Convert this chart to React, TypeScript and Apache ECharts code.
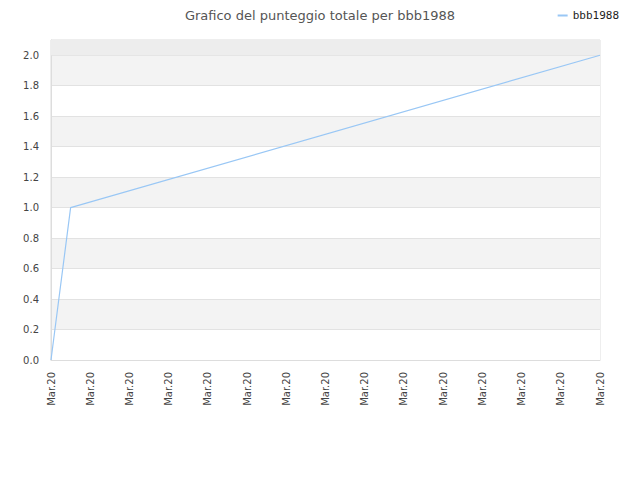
import React, { useEffect, useRef } from "react";
import * as echarts from "echarts";

const seriesName = "bbb1988";
const xValues = [0, 0.5, 14];
const yValues = [0, 1.0, 2.0];
const xTickLabel = "Mar.20";
const titleText = "Grafico del punteggio totale per bbb1988";

export default function App() {
  const ref = useRef<HTMLDivElement>(null);
  useEffect(() => {
    if (!ref.current) return;
    const chart = echarts.init(ref.current, null, { renderer: "svg" });
    const data = xValues.map((x, i) => [x, yValues[i]]);
    chart.setOption({
      animation: false,
      backgroundColor: "#ffffff",
      title: {
        text: titleText,
        left: "center",
        top: 4,
        textStyle: { fontFamily: "DejaVu Sans", fontSize: 13, fontWeight: "normal", color: "#555555" },
      },
      legend: {
        right: 16,
        top: 5,
        itemWidth: 10,
        itemHeight: 2,
        itemGap: 10,
        icon: "rect",
        textStyle: { fontFamily: "DejaVu Sans Mono", fontSize: 11, color: "#222222" },
        data: [seriesName],
      },
      grid: {
        left: 51,
        right: 40,
        top: 40,
        bottom: 120,
        show: true,
        borderColor: "#dddddd",
        borderWidth: 1,
        backgroundColor: "transparent",
      },
      xAxis: {
        type: "value",
        min: 0,
        max: 14,
        interval: 1,
        axisLine: { show: true, lineStyle: { color: "#dddddd" } },
        axisTick: { show: false },
        splitLine: { show: false },
        axisLabel: {
          rotate: 90,
          margin: 12,
          formatter: () => xTickLabel,
          fontFamily: "DejaVu Sans",
          fontSize: 10,
          color: "#444444",
        },
      },
      yAxis: {
        type: "value",
        min: 0,
        max: 2.1,
        interval: 0.2,
        axisLine: { show: true, lineStyle: { color: "#dddddd" } },
        axisTick: { show: false },
        splitLine: { show: true, lineStyle: { color: "#e2e2e2" } },
        splitArea: { show: true, areaStyle: { color: ["#ffffff", "#f3f3f3"] } },
        axisLabel: {
          showMaxLabel: false,
          margin: 12,
          formatter: (v: number) => (v > 2.05 ? "" : v.toFixed(1)),
          fontFamily: "DejaVu Sans",
          fontSize: 10,
          color: "#444444",
        },
      },
      series: [
        {
          name: seriesName,
          type: "line",
          data,
          symbol: "none",
          lineStyle: { color: "#99c7f5", width: 1.2 },
          itemStyle: { color: "#99c7f5" },
          markArea: {
            silent: true,
            itemStyle: { color: "#ededed" },
            data: [[{ yAxis: 2.0 }, { yAxis: 2.1 }]],
          },
        },
      ],
    });
    return () => chart.dispose();
  }, []);
  return <div ref={ref} style={{ width: 640, height: 480, margin: -8 }} />;
}
